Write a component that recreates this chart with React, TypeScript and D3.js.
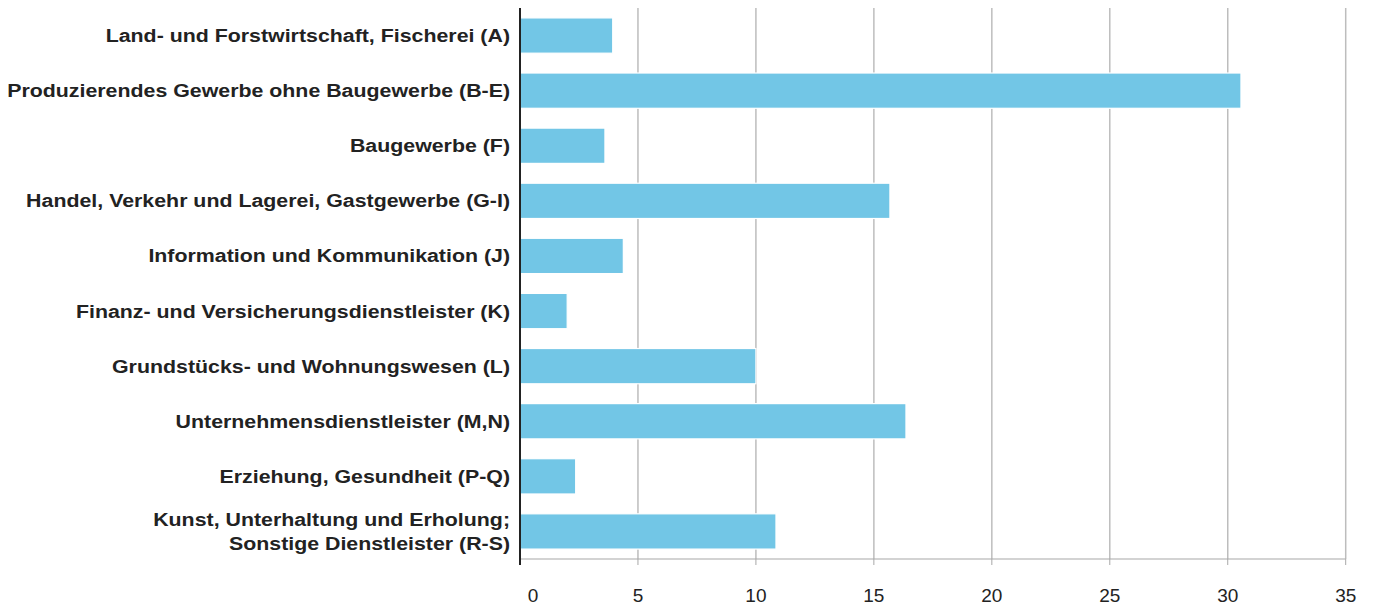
import React from "react";
import * as d3 from "d3";

const categories: string[][] = [
  ["Land- und Forstwirtschaft, Fischerei (A)"],
  ["Produzierendes Gewerbe ohne Baugewerbe (B-E)"],
  ["Baugewerbe (F)"],
  ["Handel, Verkehr und Lagerei, Gastgewerbe (G-I)"],
  ["Information und Kommunikation (J)"],
  ["Finanz- und Versicherungsdienstleister (K)"],
  ["Grundstücks- und Wohnungswesen (L)"],
  ["Unternehmensdienstleister (M,N)"],
  ["Erziehung, Gesundheit (P-Q)"],
  ["Kunst, Unterhaltung und Erholung;", "Sonstige Dienstleister (R-S)"],
];
const values: number[] = [3.93, 30.56, 3.6, 15.68, 4.38, 2.0, 10.0, 16.36, 2.36, 10.85];
const xTicks: number[] = [0, 5, 10, 15, 20, 25, 30, 35];

const W = 1375;
const H = 608;
const left = 520;
const right = 1345.7;
const top = 8;
const bottom = 559;

export default function App() {
  const x = d3.scaleLinear().domain([0, 35]).range([left, right]);
  const y = d3
    .scaleBand<number>()
    .domain(d3.range(categories.length))
    .range([top, bottom])
    .paddingInner(0.36)
    .paddingOuter(0.18);
  const font = "'Liberation Sans', Arial, Helvetica, sans-serif";
  return (
    <svg
      width={W}
      height={H}
      style={{ position: "absolute", left: 0, top: 0, background: "#fff" }}
    >
      {xTicks.map((t) => (
        <g key={t}>
          {t > 0 && (
            <line x1={x(t)} x2={x(t)} y1={top} y2={bottom} stroke="#bdbdbd" strokeWidth={1.5} />
          )}
          <line x1={x(t)} x2={x(t)} y1={bottom} y2={bottom + 6} stroke="#a8a8a8" strokeWidth={1} />
          <text
            x={x(t)}
            dx={t === 0 ? 13 : 0}
            y={595}
            textAnchor="middle"
            dominantBaseline="central"
            fontFamily={font}
            fontSize={19}
            fill="#222"
          >
            {t}
          </text>
        </g>
      ))}
      <line x1={left} x2={right} y1={bottom} y2={bottom} stroke="#a8a8a8" strokeWidth={1.2} />
      {values.map((v, i) => (
        <rect
          key={i}
          x={x(0)}
          y={y(i)!}
          width={x(v) - x(0)}
          height={y.bandwidth()}
          fill="#72c6e6"
          stroke="#ffffff"
          strokeWidth={1.2}
        />
      ))}
      <line x1={left} x2={left} y1={top} y2={bottom + 6} stroke="#222" strokeWidth={2} />
      {categories.map((lines, i) => {
        const cy = y(i)! + y.bandwidth() / 2;
        const lh = 23.5;
        return (
          <g key={i} transform={`translate(510,0) scale(1.154,1)`}>
            <text
              x={0}
              textAnchor="end"
              fontFamily={font}
              fontWeight="bold"
              fontSize={18.5}
              fill="#222"
            >
              {lines.map((l, j) => (
                <tspan
                  key={j}
                  x={0}
                  y={cy + (j - (lines.length - 1) / 2) * lh}
                  dominantBaseline="central"
                >
                  {l}
                </tspan>
              ))}
            </text>
          </g>
        );
      })}
    </svg>
  );
}
